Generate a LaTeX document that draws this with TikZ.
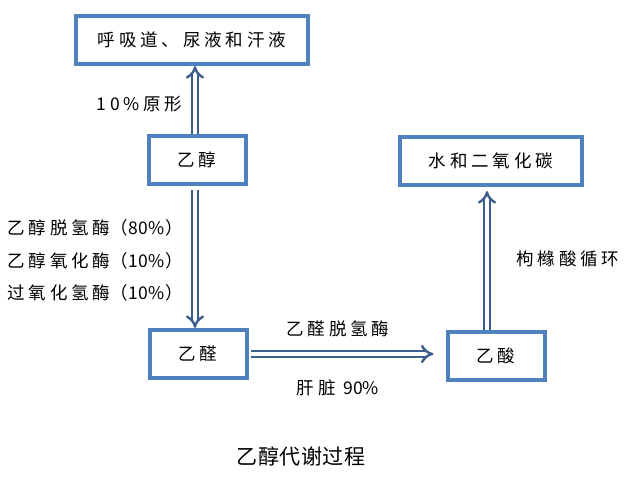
\documentclass[tikz,border=0pt]{standalone}
\usepackage{fontspec}
\setmainfont{Noto Sans CJK SC}[LetterSpace=22]
\newfontfamily\plainfont{Noto Sans CJK SC}
\newfontfamily\titlefont{Noto Sans CJK SC}[LetterSpace=3]
\usetikzlibrary{arrows.meta}
\definecolor{boxblue}{HTML}{4F81BD}
\definecolor{arrowblue}{HTML}{3B5E8C}
\newcommand{\pct}[1]{{\plainfont（\kern1pt#1\%\kern1pt）}}

\begin{document}
\begin{tikzpicture}[x=1pt, y=-1pt, font=\fontsize{17.5}{19}\selectfont,
  stagebox/.style={draw=boxblue, line width=4pt, fill=white, minimum height=48pt, inner sep=0pt},
  flow/.style={draw=arrowblue, line width=2.4pt, double=white, double distance=3.6pt, -{Implies[scale=1.5]}}]
\useasboundingbox (0,0) rectangle (639,489);
% stages
\node[stagebox, minimum width=232pt] (exhale) at (192,40) {呼吸道、尿液和汗液};
\node[stagebox, minimum width=97pt] (ethanol) at (197,160) {乙醇};
\node[stagebox, minimum width=97pt] (acetald) at (198,354) {乙醛};
\node[stagebox, minimum width=97pt] (acetic) at (496,356) {乙酸};
\node[stagebox, minimum width=182pt] (water) at (491,161) {水和二氧化碳};
% connectors
\draw[flow] (ethanol.north -| 195,0) -- (exhale.south -| 195,0);
\draw[flow, shorten <=4pt] (ethanol.south -| 195,0) -- (acetald.north -| 195,0);
\draw[flow, shorten <=2pt, shorten >=12pt] (acetald.east) -- (acetic.west |- acetald.east);
\draw[flow, shorten >=4pt] (acetic.north -| 487,0) -- (water.south -| 487,0);
% labels
\node[anchor=east] (lblraw) at (186,104) {10\%原形};
\node[anchor=west] (lbladh) at (4,228) {乙醇脱氢酶\pct{80}};
\node[anchor=west] (lblmeos) at (4,261) {乙醇氧化酶\pct{10}};
\node[anchor=west] (lblcat) at (4,293) {过氧化氢酶\pct{10}};
\node (lblaldh) at (338,329) {乙醛脱氢酶};
\node (lblliver) at (338,388) {肝脏 {\plainfont 90\%}};
\node[anchor=west] (lbltca) at (513,259) {枸橼酸循环};
\node[font=\titlefont\fontsize{21}{23}\selectfont] (title) at (301,456) {乙醇代谢过程};
\end{tikzpicture}
\end{document}
